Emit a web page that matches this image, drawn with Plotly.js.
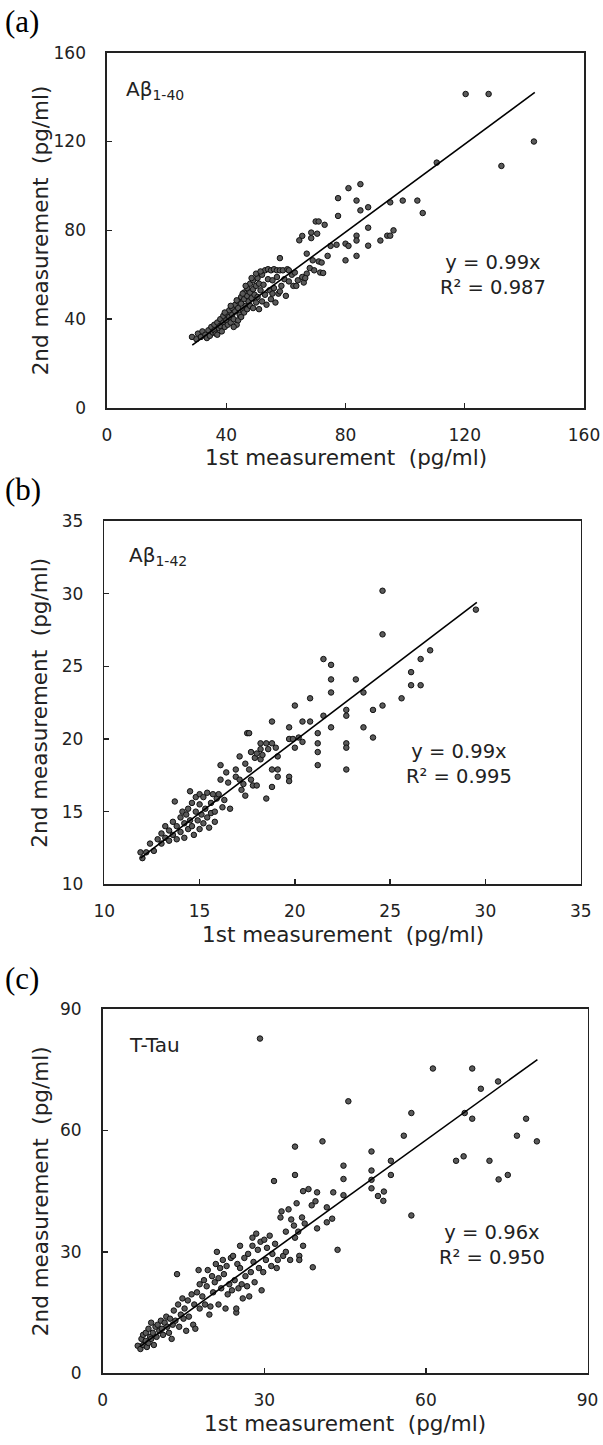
<!DOCTYPE html>
<html>
<head>
<meta charset="utf-8">
<script src="https://cdn.plot.ly/plotly-3.0.1.min.js"></script>
<style>
  html, body { margin: 0; padding: 0; background: #fff; }
  #chart { width: 603px; height: 1445px; }
</style>
</head>
<body>
<div id="chart"></div>
<script>
// ---------- Panel (a): Aβ1-40 ----------
const a_x = [28.5,30.0,30.5,31.5,32.0,33.0,33.5,34.0,34.5,35.0,35.5,36.0,36.0,36.5,37.0,37.5,38.0,38.0,38.5,39.0,
  39.0,39.5,40.0,40.0,40.5,41.0,41.0,41.5,42.0,42.0,42.5,43.0,43.0,43.5,44.0,44.0,44.0,44.5,45.0,45.0,
  45.0,45.5,46.0,46.0,46.0,46.5,47.0,47.0,47.0,47.5,48.0,48.0,48.0,48.5,49.0,49.0,49.0,49.5,50.0,50.0,
  50.5,50.5,51.0,51.0,51.5,52.0,52.0,52.5,53.0,53.0,53.5,54.0,54.0,54.5,55.0,55.0,55.5,56.0,56.0,56.5,
  57.0,57.0,57.5,58.0,58.0,58.5,59.0,59.5,60.0,60.5,61.0,62.0,62.5,63.5,63.0,64.0,64.5,65.5,65.5,66.0,
  67.0,67.0,68.0,68.5,68.5,69.0,69.5,70.0,70.5,71.0,71.0,71.5,72.0,73.0,74.0,75.0,77.0,77.5,77.5,80.0,
  80.0,81.0,81.0,83.7,83.7,83.7,83.7,85.0,85.0,87.6,87.6,87.6,91.7,94.0,95.0,95.0,96.1,99.2,104.1,105.9,
  110.6,120.3,128.0,132.3,143.2,39.5,41.5,43.5,45.5,46.5,48.5,50.0,51.5,42.5,37.0,55.5,58.0,61.0,66.5,72.5];
const a_y = [32.0,31.0,33.5,32.0,34.5,33.0,31.5,35.0,32.5,36.5,34.0,37.5,35.0,33.5,38.5,36.0,40.0,37.0,34.5,41.5,
  38.5,36.5,42.5,39.5,37.5,44.0,41.0,38.5,45.0,42.0,40.0,46.5,43.5,37.5,48.0,45.0,39.5,42.0,50.0,47.0,
  41.0,44.0,52.0,49.0,43.0,46.0,54.0,50.5,44.5,48.0,56.0,52.0,46.0,49.5,57.5,53.5,45.0,51.0,55.0,47.5,
  58.5,50.0,56.0,44.5,53.0,60.0,48.0,55.5,62.0,51.0,46.5,62.5,58.0,53.0,62.0,49.0,57.5,62.5,54.0,47.5,
  62.0,59.0,51.5,67.5,62.0,55.0,62.0,58.0,50.5,62.5,57.0,60.0,55.0,55.0,61.0,57.5,75.5,77.5,59.0,56.5,
  69.5,60.5,63.0,79.0,76.5,66.5,62.0,84.0,78.5,84.0,66.0,61.0,65.5,82.5,68.5,73.0,73.5,94.5,86.5,74.0,
  66.5,99.0,73.0,93.4,77.6,75.4,68.5,100.8,89.0,90.4,81.2,73.1,75.4,77.6,77.6,92.6,80.0,93.4,93.4,87.8,
  110.5,141.4,141.4,109.0,120.0,43.0,46.0,48.5,51.5,55.0,58.5,60.5,61.5,36.5,33.0,51.5,52.5,62.0,58.5,60.8];
const a_fit_x = [28.6, 143.5];
const a_fit_y = [28.3, 142.1];

// ---------- Panel (b): Aβ1-42 ----------
const b_x = [11.9,12.0,12.2,12.4,12.6,12.8,13.0,13.0,13.2,13.2,13.4,13.4,13.6,13.6,13.7,13.8,13.8,14.0,14.0,14.1,
  14.2,14.2,14.3,14.4,14.4,14.5,14.5,14.6,14.6,14.7,14.8,14.8,14.9,15.0,15.0,15.0,15.1,15.2,15.2,15.3,
  15.4,15.4,15.5,15.6,15.6,15.7,15.8,15.8,15.9,16.0,16.1,16.1,16.2,16.3,16.4,16.5,16.6,16.9,16.9,17.1,
  17.1,17.2,17.3,17.4,17.4,17.5,17.6,17.6,17.7,17.7,17.8,17.9,18.0,18.0,18.2,18.2,18.2,18.3,18.5,18.5,
  18.6,18.8,18.8,18.8,18.8,19.1,19.1,19.1,19.0,19.7,19.7,19.7,19.7,19.9,20.0,20.0,20.2,20.4,20.4,20.8,
  20.8,21.2,21.2,21.2,21.2,21.5,21.5,21.9,21.9,21.9,21.9,22.7,22.7,22.7,22.7,22.7,23.2,23.6,23.6,24.1,
  24.1,24.6,24.6,24.6,25.6,26.1,26.1,26.6,26.6,27.1,29.5];
const b_y = [12.2,11.8,12.2,12.8,12.3,13.1,13.5,12.8,14.0,13.2,13.7,13.0,14.3,13.4,15.7,14.0,13.1,14.6,13.6,15.0,
  14.2,13.2,14.8,15.2,13.8,16.4,14.4,15.6,14.0,13.4,16.0,15.0,14.4,16.2,15.5,13.8,14.8,16.0,14.2,15.2,
  16.3,14.6,13.9,15.6,14.9,16.2,15.0,14.3,15.9,16.2,18.2,17.2,15.3,15.8,17.7,17.0,15.2,17.9,17.4,18.8,
  17.2,16.5,16.9,16.1,18.3,20.4,20.4,17.9,19.1,17.2,16.8,18.7,19.0,16.8,19.7,19.3,18.6,18.9,15.9,19.7,
  19.3,21.2,19.7,17.9,16.7,17.9,17.4,18.8,19.4,20.8,20.0,17.4,17.1,20.0,22.3,19.4,20.1,21.2,19.8,22.8,
  21.2,20.4,19.7,19.1,18.2,25.5,21.6,25.1,24.1,23.2,20.8,22.0,21.6,19.7,19.4,17.9,24.1,23.2,20.8,22.0,
  20.1,30.2,27.2,22.3,22.8,24.6,23.7,25.5,23.7,26.1,28.9];
const b_fit_x = [11.9, 29.55];
const b_fit_y = [11.8, 29.4];

// ---------- Panel (c): T-Tau ----------
const c_x = [6.5,7.0,7.2,7.5,7.5,8.0,8.0,8.2,8.5,8.5,8.8,9.0,9.0,9.3,9.5,9.8,10.0,10.2,10.5,10.8,
  11.0,11.2,11.5,11.8,12.0,12.3,12.5,12.8,13.0,13.2,13.5,13.8,14.0,14.2,14.5,14.8,15.0,15.2,15.5,15.8,
  16.0,16.5,16.8,17.0,17.2,17.5,17.8,18.0,18.0,18.5,18.8,19.0,19.3,19.5,19.8,20.0,20.3,20.5,20.8,21.0,
  21.2,21.5,21.5,21.8,22.0,22.3,22.5,22.8,23.0,23.2,23.5,23.8,24.0,24.2,24.5,24.8,24.8,25.0,25.2,25.5,
  25.5,25.8,26.0,26.3,26.5,26.8,27.0,27.2,27.5,27.8,27.8,28.0,28.2,28.5,28.8,29.0,29.3,29.5,29.8,30.0,
  30.3,30.5,31.0,31.3,31.5,31.8,32.0,32.3,32.5,33.0,33.2,33.5,34.0,34.0,34.5,34.8,35.0,35.5,35.7,35.7,
  35.7,36.0,36.3,36.5,36.5,37.0,37.2,37.2,37.5,38.2,38.8,39.0,39.5,39.8,39.8,40.8,41.6,41.6,42.6,42.8,
  43.6,44.7,44.7,44.7,45.6,49.9,49.9,49.9,49.9,51.1,52.1,52.2,53.5,53.5,55.9,57.3,57.3,61.3,65.6,67.0,
  67.2,68.6,68.6,70.2,71.8,73.4,73.5,75.2,76.9,78.6,80.6,29.2];
const c_y = [6.8,6.0,8.5,7.0,9.5,10.0,8.0,6.5,7.5,11.0,9.0,12.5,8.5,10.0,7.0,11.5,9.0,12.0,10.5,13.0,
  11.0,9.5,12.5,14.0,11.5,10.0,13.5,8.5,12.0,15.5,13.0,24.5,17.0,11.5,14.5,18.5,13.5,16.0,10.5,18.0,
  14.0,19.5,12.0,17.0,11.0,20.0,25.5,22.0,16.0,19.0,23.0,17.0,21.5,25.5,14.5,16.5,24.0,20.0,22.5,27.0,
  30.0,23.5,17.0,26.0,21.0,28.0,24.5,16.0,26.5,19.5,22.0,28.5,20.5,29.0,23.0,15.0,16.0,27.0,21.0,31.5,
  26.0,22.0,18.5,28.5,24.0,21.5,29.5,19.0,25.0,33.5,31.5,27.5,22.5,34.5,30.5,26.0,32.5,20.5,25.0,33.0,
  28.0,31.0,34.0,26.5,29.5,47.5,32.0,26.0,28.0,38.5,40.0,29.0,35.0,30.0,40.5,28.0,38.0,36.5,56.0,49.0,
  33.5,42.0,35.0,29.0,28.0,38.5,45.0,31.5,37.0,45.5,41.5,26.2,42.5,44.7,35.8,57.3,41.0,37.3,38.2,44.7,
  30.5,51.3,48.0,44.0,67.2,54.8,50.1,47.8,45.7,43.8,42.6,44.9,52.5,49.0,58.7,64.3,39.0,75.3,52.5,53.6,
  64.3,75.3,62.9,70.3,52.5,72.1,47.9,49.0,58.7,62.9,57.3,82.7];
const c_fit_x = [6.9, 80.7];
const c_fit_y = [6.6, 77.5];

// ---------- tick labels / texts ----------
const panelLabels = ["(a)", "(b)", "(c)"];
const analyteLabels = ["Aβ<sub>1-40</sub>", "Aβ<sub>1-42</sub>", "T-Tau"];
const equations = ["y = 0.99x<br>R² = 0.987", "y = 0.99x<br>R² = 0.995", "y = 0.96x<br>R² = 0.950"];
const xTitle = "1st measurement  (pg/ml)";
const yTitle = "2nd measurement  (pg/ml)";
const ranges = [[0,160],[10,35],[0,90]];
const dticks = [40, 5, 30];

// ---------- layout geometry (pixels) ----------
const W = 603, H = 1445;
const boxes = [
  {l:107, r:584, t:52.7, b:408},
  {l:104.3, r:580.7, t:521, b:884.3},
  {l:102.7, r:587.5, t:1009, b:1373.3}
];
const px = v => v / W;
const py = v => 1 - v / H;

const FONT = "'DejaVu Sans', Lato, sans-serif";
const INK = "#222";

const marker = {size: 5.5, color: "#5a5a5a", line: {color: "#111", width: 1}};
const data = [];
const sets = [[a_x,a_y,a_fit_x,a_fit_y],[b_x,b_y,b_fit_x,b_fit_y],[c_x,c_y,c_fit_x,c_fit_y]];
sets.forEach((s, i) => {
  const xa = i === 0 ? "x" : "x" + (i+1);
  const ya = i === 0 ? "y" : "y" + (i+1);
  data.push({x: s[0], y: s[1], type: "scatter", mode: "markers", marker: marker,
             xaxis: xa, yaxis: ya, showlegend: false, hoverinfo: "x+y"});
  data.push({x: s[2], y: s[3], type: "scatter", mode: "lines", line: {color: "#000", width: 1.6},
             xaxis: xa, yaxis: ya, showlegend: false, hoverinfo: "skip"});
});

const layout = {
  width: W, height: H,
  margin: {l:0, r:0, t:0, b:0},
  paper_bgcolor: "#fff", plot_bgcolor: "#fff",
  font: {family: FONT, color: INK, size: 17},
  showlegend: false,
  annotations: []
};

boxes.forEach((bx, i) => {
  const sfx = i === 0 ? "" : String(i+1);
  const axCommon = {
    showline: true, mirror: true, linecolor: INK, linewidth: 1.6,
    ticks: "inside", ticklen: 5, tickwidth: 1.4, tickcolor: INK,
    showgrid: false, zeroline: false, fixedrange: true,
    tickfont: {family: FONT, size: 17, color: INK},
    automargin: false
  };
  layout["xaxis" + sfx] = Object.assign({}, axCommon, {
    domain: [px(bx.l), px(bx.r)], range: ranges[i], dtick: dticks[i], tick0: ranges[i][0],
    anchor: "y" + sfx, ticklabelstandoff: 11
  });
  layout["yaxis" + sfx] = Object.assign({}, axCommon, {
    domain: [py(bx.b), py(bx.t)], range: ranges[i], dtick: dticks[i], tick0: ranges[i][0],
    anchor: "x" + sfx, ticklabelstandoff: 16
  });
  const cx = (bx.l + bx.r) / 2, cy = (bx.t + bx.b) / 2;
  // axis titles
  layout.annotations.push({xref:"paper", yref:"paper", x: px(cx), y: py(bx.b + 50),
    text: xTitle, showarrow:false, xanchor:"center", yanchor:"middle",
    font:{family: FONT, size: 21.5, color: INK}});
  layout.annotations.push({xref:"paper", yref:"paper", x: px(40), y: py(cy),
    text: yTitle, showarrow:false, textangle: -90, xanchor:"center", yanchor:"middle",
    font:{family: FONT, size: 21.5, color: INK}});
  // panel letter
  layout.annotations.push({xref:"paper", yref:"paper", x: px(3), y: py(bx.t - 31),
    text: panelLabels[i], showarrow:false, xanchor:"left", yanchor:"middle",
    font:{family: "'Liberation Serif', 'Times New Roman', serif", size: 31, color: "#000"}});
});

// analyte labels (top-left inside each panel)
const analytePos = [[124, 90], [127, 556], [127, 1045]];
analytePos.forEach((p, i) => {
  layout.annotations.push({xref:"paper", yref:"paper", x: px(p[0]), y: py(p[1]),
    text: analyteLabels[i], showarrow:false, xanchor:"left", yanchor:"middle",
    font:{family: FONT, size: 20, color: INK}});
});
// regression equations
const eqPos = [[493, 275], [459, 764], [492, 1245]];
eqPos.forEach((p, i) => {
  layout.annotations.push({xref:"paper", yref:"paper", x: px(p[0]), y: py(p[1]),
    text: equations[i], showarrow:false, xanchor:"center", yanchor:"middle", align:"center",
    font:{family: FONT, size: 19.5, color: INK}});
});

Plotly.newPlot("chart", data, layout, {staticPlot: true, displayModeBar: false});
</script>
</body>
</html>
